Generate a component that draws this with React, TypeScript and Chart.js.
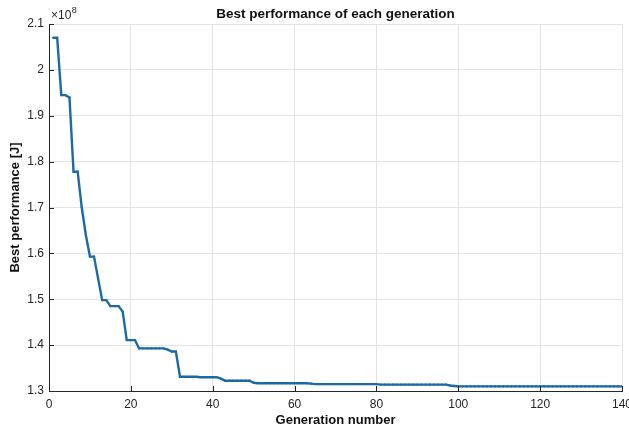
import React, { useEffect, useRef } from "react";
import { Chart, registerables } from "chart.js";

Chart.register(...registerables);

// Generation numbers and best performance values (in units of 1e8 J)
const generations: number[] = Array.from({ length: 140 }, (_, i) => i + 1);
const bestPerformance: number[] = [
  2.070, 2.070, 1.945, 1.945, 1.940, 1.778, 1.778, 1.700, 1.640, 1.593,
  1.593, 1.545, 1.498, 1.498, 1.485, 1.485, 1.485, 1.473, 1.411, 1.411,
  1.411, 1.393, 1.393, 1.393, 1.393, 1.393, 1.393, 1.393, 1.390, 1.386,
  1.386, 1.331, 1.331, 1.331, 1.331, 1.331, 1.330, 1.330, 1.330, 1.330,
  1.330, 1.327, 1.3225, 1.3225, 1.3225, 1.3225, 1.3225, 1.3225, 1.3225, 1.318,
  1.317, 1.317, 1.317, 1.317, 1.317, 1.317, 1.317, 1.317, 1.317, 1.317,
  1.317, 1.317, 1.317, 1.316, 1.315, 1.315, 1.315, 1.315, 1.315, 1.315,
  1.315, 1.315, 1.315, 1.315, 1.315, 1.315, 1.315, 1.315, 1.315, 1.315,
  1.314, 1.314, 1.314, 1.314, 1.314, 1.314, 1.314, 1.314, 1.314, 1.314,
  1.314, 1.314, 1.314, 1.314, 1.314, 1.314, 1.314, 1.312, 1.311, 1.310,
  1.310, 1.310, 1.310, 1.310, 1.310, 1.310, 1.310, 1.310, 1.310, 1.310,
  1.310, 1.310, 1.310, 1.310, 1.310, 1.310, 1.310, 1.310, 1.310, 1.310,
  1.310, 1.310, 1.310, 1.310, 1.310, 1.310, 1.310, 1.310, 1.310, 1.310,
  1.310, 1.310, 1.310, 1.310, 1.310, 1.310, 1.310, 1.310, 1.310, 1.310,
];
const xTicks: number[] = [0, 20, 40, 60, 80, 100, 120, 140];
const yTicks: number[] = [1.3, 1.4, 1.5, 1.6, 1.7, 1.8, 1.9, 2.0, 2.1];

const titleText = "Best performance of each generation";
const xTitle = "Generation number";
const yTitle = "Best performance [J]";
const exponentBase = "\u00d710";
const exponentPower = "8";

const FONT = "'Liberation Sans', Arial, Helvetica, sans-serif";
const AXIS_COLOR = "#262626";
const GRID_COLOR = "#e4e4e4";
const LINE_COLOR = "#1c6aa6";

const decorPlugin = {
  id: "decor",
  afterDatasetsDraw(chart: any) {
    const { ctx, chartArea, scales } = chart;
    ctx.save();
    // inward tick marks
    ctx.strokeStyle = AXIS_COLOR;
    ctx.lineWidth = 1;
    const tl = 5;
    xTicks.forEach((t) => {
      const x = Math.round(scales.x.getPixelForValue(t)) + 0.5;
      ctx.beginPath();
      ctx.moveTo(x, chartArea.bottom);
      ctx.lineTo(x, chartArea.bottom - tl);
      ctx.stroke();
    });
    yTicks.forEach((t) => {
      const y = Math.round(scales.y.getPixelForValue(t)) + 0.5;
      ctx.beginPath();
      ctx.moveTo(chartArea.left, y);
      ctx.lineTo(chartArea.left + tl, y);
      ctx.stroke();
    });
    // title
    ctx.fillStyle = "#111111";
    ctx.font = `bold 13.5px ${FONT}`;
    ctx.textAlign = "center";
    ctx.textBaseline = "middle";
    ctx.fillText(titleText, (chartArea.left + chartArea.right) / 2, 14);
    // exponent label
    ctx.fillStyle = AXIS_COLOR;
    ctx.textAlign = "left";
    ctx.textBaseline = "alphabetic";
    ctx.font = `12px ${FONT}`;
    const bx = chartArea.left + 2;
    ctx.fillText(exponentBase, bx, 19);
    const w = ctx.measureText(exponentBase).width;
    ctx.font = `9px ${FONT}`;
    ctx.fillText(exponentPower, bx + w + 0.5, 13);
    ctx.restore();
  },
};

export default function App() {
  const canvasRef = useRef<HTMLCanvasElement | null>(null);

  useEffect(() => {
    if (!canvasRef.current) return;
    const chart = new Chart(canvasRef.current, {
      type: "line",
      data: {
        datasets: [
          {
            data: generations.map((g, i) => ({ x: g, y: bestPerformance[i] })),
            borderColor: LINE_COLOR,
            backgroundColor: LINE_COLOR,
            borderWidth: 2.4,
            pointRadius: 1.1,
            pointBorderWidth: 0,
            tension: 0,
            fill: false,
          },
        ],
      },
      options: {
        animation: false,
        responsive: false,
        maintainAspectRatio: false,
        devicePixelRatio: 1,
        layout: { padding: { top: 24, right: 7, left: 0, bottom: 0 } },
        plugins: {
          legend: { display: false },
          tooltip: { enabled: false },
          title: { display: false },
        },
        scales: {
          x: {
            type: "linear",
            min: 0,
            max: 140,
            afterBuildTicks: (scale: any) => {
              scale.ticks = xTicks.map((v) => ({ value: v }));
            },
            afterFit: (scale: any) => {
              scale.height = 41;
              scale.paddingLeft = 0;
              scale.paddingRight = 0;
            },
            ticks: {
              color: AXIS_COLOR,
              font: { family: FONT, size: 12 },
              padding: 6,
              maxRotation: 0,
              autoSkip: false,
            },
            grid: { color: GRID_COLOR, drawTicks: false, lineWidth: 1 },
            border: { display: true, color: AXIS_COLOR, width: 1 },
            title: {
              display: true,
              text: xTitle,
              color: "#111111",
              font: { family: FONT, size: 13, weight: "bold" },
              padding: { top: 0, bottom: 4 },
            },
          },
          y: {
            type: "linear",
            min: 1.3,
            max: 2.1,
            afterBuildTicks: (scale: any) => {
              scale.ticks = yTicks.map((v) => ({ value: v }));
            },
            afterFit: (scale: any) => {
              scale.width = 49;
              scale.paddingTop = 0;
              scale.paddingBottom = 0;
            },
            ticks: {
              color: AXIS_COLOR,
              font: { family: FONT, size: 12 },
              padding: 5,
              autoSkip: false,
              callback: (v: any) => {
                const n = Math.round(Number(v) * 10) / 10;
                return n === 2 ? "2" : String(n);
              },
            },
            grid: { color: GRID_COLOR, drawTicks: false, lineWidth: 1 },
            border: { display: true, color: AXIS_COLOR, width: 1 },
            title: {
              display: true,
              text: yTitle,
              color: "#111111",
              font: { family: FONT, size: 13, weight: "bold" },
              padding: { top: 8, bottom: 0 },
            },
          },
        },
      },
      plugins: [decorPlugin],
    });
    return () => chart.destroy();
  }, []);

  return (
    <div style={{ position: "absolute", left: 0, top: 0, width: 629, height: 432, background: "#ffffff" }}>
      <canvas ref={canvasRef} width={629} height={432} style={{ display: "block" }} />
    </div>
  );
}
